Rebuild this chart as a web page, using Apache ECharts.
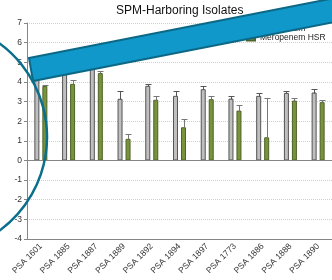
<!DOCTYPE html>
<html>
<head>
<meta charset="utf-8">
<script src="https://cdn.jsdelivr.net/npm/echarts@6/dist/echarts.min.js"></script>
<style>
  html, body { margin: 0; padding: 0; background: #fff; }
</style>
</head>
<body>
<div id="main" style="width: 332px; height: 280px"></div>
<script>
// isolates on the x axis
var categories = ['PSA 1601', 'PSA 1885', 'PSA 1887', 'PSA 1889', 'PSA 1892', 'PSA 1894',
  'PSA 1897', 'PSA 1773', 'PSA 1886', 'PSA 1888', 'PSA 1890']
var seriesNames = ['Meropenem', 'Meropenem HSR']
// gray bars (first three partly hidden under the blue band, estimated)
var totalValues = [4.7, 4.6, 5.0, 3.14, 3.8, 3.29, 3.63, 3.15, 3.29, 3.44, 3.46]
var totalErrors = [0.2, 0.2, 0.2, 0.42, 0.1, 0.27, 0.17, 0.11, 0.14, 0.11, 0.17]
// green bars
var hsrValues = [3.79, 3.9, 4.45, 1.1, 3.09, 1.69, 3.12, 2.54, 1.18, 3.05, 2.97]
var hsrErrors = [0.03, 0.2, 0.12, 0.25, 0.21, 0.43, 0.18, 0.28, 1.99, 0.12, 0.1]
var yTicks = { min: -4, max: 7, interval: 1 }

var font = 'Liberation Sans, Arial, sans-serif'

function errData(vals, errs) {
  var out = []
  for (var i = 0; i < vals.length; i++) {
    out.push([i, vals[i], vals[i] + errs[i]])
  }
  return out
}

function errRender(offset, color) {
  return function (params, api) {
    var i = api.value(0)
    var base = api.coord([i, api.value(1)])
    var top = api.coord([i, api.value(2)])
    var x = Math.round(base[0] + offset) + 0.5
    var y0 = Math.round(base[1]) + 0.5
    var y1 = Math.round(top[1]) + 0.5
    return {
      type: 'group',
      children: [
        { type: 'line', shape: { x1: x, y1: y0, x2: x, y2: y1 }, style: { stroke: color, lineWidth: 1 } },
        { type: 'line', shape: { x1: x - 3, y1: y1, x2: x + 3, y2: y1 }, style: { stroke: color, lineWidth: 1 } }
      ]
    }
  }
}

var chart = echarts.init(document.getElementById('main'))
var option = {
  animation: false,
  textStyle: { fontFamily: font },
  title: {
    text: 'SPM-Harboring Isolates',
    left: 116,
    top: 5,
    padding: 0,
    textStyle: { fontSize: 12, fontWeight: 'normal', color: '#111', fontFamily: font }
  },
  legend: {
    orient: 'vertical',
    left: 246,
    top: 24,
    padding: 0,
    itemGap: 0,
    itemWidth: 8,
    itemHeight: 6,
    icon: 'rect',
    textStyle: { fontSize: 8.5, color: '#222', fontFamily: font },
    data: seriesNames
  },
  grid: {
    left: 27,
    top: 23,
    width: 308,
    height: 216
  },
  xAxis: {
    type: 'category',
    data: categories,
    axisLine: { onZero: false, lineStyle: { color: '#868686' } },
    axisTick: { alignWithLabel: true, length: 4, lineStyle: { color: '#868686' } },
    axisLabel: { rotate: 45, fontSize: 8.5, color: '#333', margin: 6, interval: 0 },
    splitLine: { show: false }
  },
  yAxis: {
    type: 'value',
    min: yTicks.min,
    max: yTicks.max,
    interval: yTicks.interval,
    axisLine: { show: true, lineStyle: { color: '#868686' } },
    axisTick: { show: true, length: 3, lineStyle: { color: '#868686' } },
    axisLabel: { fontSize: 8.5, color: '#333', margin: 5 },
    splitLine: { lineStyle: { type: 'dotted', color: '#d0d0d0' } }
  },
  series: [
    {
      name: seriesNames[0],
      type: 'bar',
      barWidth: 5,
      barGap: '60%',
      data: totalValues,
      itemStyle: { color: '#bfbfbf', borderColor: '#555', borderWidth: 1 },
      markLine: {
        silent: true,
        symbol: 'none',
        label: { show: false },
        lineStyle: { type: 'solid', color: '#868686', width: 1 },
        data: [{ yAxis: 0 }]
      }
    },
    {
      name: seriesNames[1],
      type: 'bar',
      barWidth: 5,
      data: hsrValues,
      itemStyle: { color: '#77933c', borderColor: '#4f6228', borderWidth: 1 }
    },
    {
      type: 'custom',
      z: 3,
      silent: true,
      renderItem: errRender(-4, '#555'),
      data: errData(totalValues, totalErrors)
    },
    {
      type: 'custom',
      z: 3,
      silent: true,
      renderItem: errRender(4, '#777'),
      data: errData(hsrValues, hsrErrors)
    }
  ],
  graphic: [
    {
      type: 'polygon',
      z: 100,
      shape: { points: [[29, 58], [345, -4], [345, 20], [33, 81]] },
      style: { fill: '#0f98c9', stroke: '#0d6886', lineWidth: 2 }
    },
    {
      type: 'arc',
      z: 101,
      shape: { cx: -69, cy: 137, r: 116, startAngle: -1.05, endAngle: 1.05, clockwise: true },
      style: { fill: null, stroke: '#0a6f8c', lineWidth: 2.5 }
    }
  ]
}
chart.setOption(option)
</script>
</body>
</html>
